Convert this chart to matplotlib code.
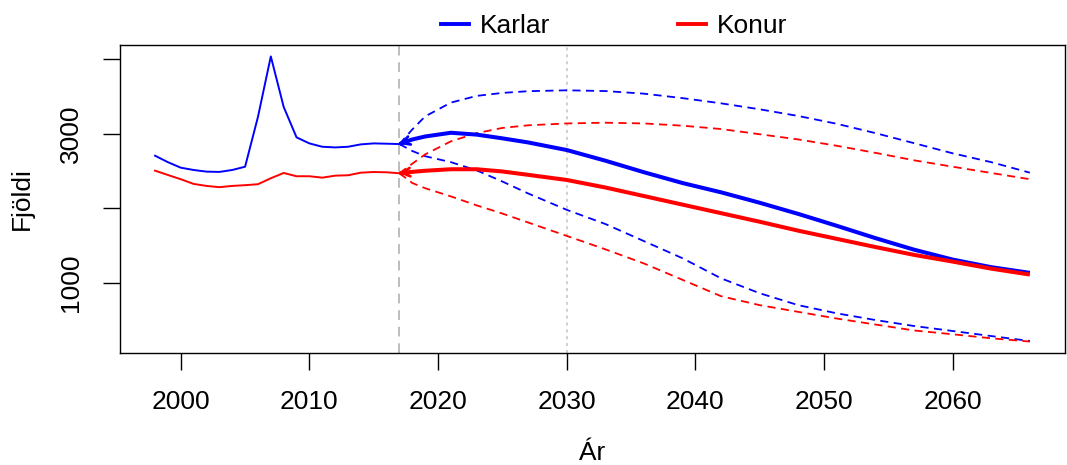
import matplotlib
matplotlib.use("Agg")
import matplotlib.pyplot as plt
from matplotlib.lines import Line2D

plt.rcParams['font.family'] = ['Liberation Sans', 'DejaVu Sans']

# ---------------- data ----------------
hist_years = list(range(1998, 2018))
hist_karlar = [2707, 2620, 2546, 2515, 2493, 2489, 2515, 2559, 3228, 4040,
               3362, 2953, 2872, 2827, 2818, 2827, 2859, 2872, 2868, 2863]
hist_konur = [2506, 2448, 2391, 2328, 2301, 2284, 2301, 2311, 2324, 2404,
              2475, 2431, 2431, 2412, 2439, 2444, 2479, 2488, 2484, 2471]

proj_years = [2017, 2018, 2019, 2021, 2023, 2025, 2027, 2030, 2033, 2036,
              2039, 2042, 2045, 2048, 2051, 2054, 2057, 2060, 2063, 2066]
karlar_median = [2863, 2925, 2965, 3015, 2990, 2940, 2885, 2783, 2640, 2485,
                 2340, 2215, 2075, 1925, 1765, 1600, 1445, 1312, 1210, 1134]
karlar_upper = [2863, 3060, 3235, 3420, 3510, 3550, 3573, 3585, 3575, 3540,
                3480, 3410, 3330, 3240, 3135, 3010, 2875, 2739, 2620, 2479]
karlar_lower = [2863, 2770, 2700, 2620, 2510, 2360, 2200, 1980, 1790, 1560,
                1330, 1060, 860, 700, 590, 500, 420, 353, 285, 219]
konur_median = [2471, 2490, 2505, 2525, 2525, 2495, 2450, 2381, 2280, 2165,
                2050, 1935, 1820, 1700, 1590, 1480, 1375, 1285, 1190, 1111]
konur_upper = [2471, 2600, 2725, 2900, 3010, 3080, 3115, 3140, 3150, 3140,
               3110, 3065, 2995, 2925, 2840, 2745, 2645, 2559, 2475, 2391]
konur_lower = [2471, 2340, 2270, 2160, 2040, 1930, 1810, 1630, 1450, 1260,
               1040, 820, 700, 610, 520, 440, 360, 309, 255, 211]

marker_years = [2017, 2030]
y_ticks = [1000, 2000, 3000, 4000]
y_ticklabels = ['1000', '', '3000', '']
x_ticks = [2000, 2010, 2020, 2030, 2040, 2050, 2060]
labels = ['Karlar', 'Konur']
colors = ['#0000ff', '#ff0000']

# ---------------- figure ----------------
fig = plt.figure(figsize=(10.67, 4.65), dpi=100)
ax = fig.add_axes([0.1125, 0.2409, 0.8855, 0.6623])

ax.axvline(marker_years[0], color='#bdbdbd', lw=1.4, ls=(0, (5, 3.5)), zorder=1)
ax.axvline(marker_years[1], color='#c4c4c4', lw=1.1, ls=(0, (2, 2.5)), zorder=1)

dash = (0, (4.5, 3))
for hist, med, up, lo, col in [
        (hist_karlar, karlar_median, karlar_upper, karlar_lower, colors[0]),
        (hist_konur, konur_median, konur_upper, konur_lower, colors[1])]:
    ax.plot(hist_years, hist, color=col, lw=1.4, zorder=3)
    ax.plot(proj_years, up, color=col, lw=1.3, ls=dash, zorder=3)
    ax.plot(proj_years, lo, color=col, lw=1.3, ls=dash, zorder=3)
    ax.plot(proj_years, med, color=col, lw=2.9, zorder=4, solid_capstyle='butt')
    ax.annotate('', xy=(proj_years[0], med[0]), xytext=(proj_years[1], med[1]),
                arrowprops=dict(arrowstyle='->,head_length=0.55,head_width=0.3',
                                color=col, lw=2.0, shrinkA=0, shrinkB=0),
                zorder=5)

ax.margins(x=0.04, y=0.04)
ax.set_xticks(x_ticks)
ax.set_xticklabels([str(t) for t in x_ticks])
ax.set_yticks(y_ticks)
ax.set_yticklabels(y_ticklabels, rotation=90, va='center')

ax.tick_params(axis='both', labelsize=19, length=12, width=1.0, color='black')
ax.tick_params(axis='x', pad=15)
ax.tick_params(axis='y', pad=15)
for s in ax.spines.values():
    s.set_linewidth(1.0)
    s.set_color('black')

ax.set_xlabel('Ár', fontsize=19, labelpad=19)
ax.set_ylabel('Fjöldi', fontsize=19, labelpad=18)

handles = [Line2D([0], [0], color=c, lw=2.8) for c in colors]
ax.legend(handles, labels, loc='lower center', bbox_to_anchor=(0.523, 1.005),
          ncol=2, frameon=False, fontsize=19, handlelength=1.05,
          handletextpad=0.42, columnspacing=4.85, borderaxespad=0.0,
          borderpad=0.2)

fig.savefig('out.png', dpi=100)
